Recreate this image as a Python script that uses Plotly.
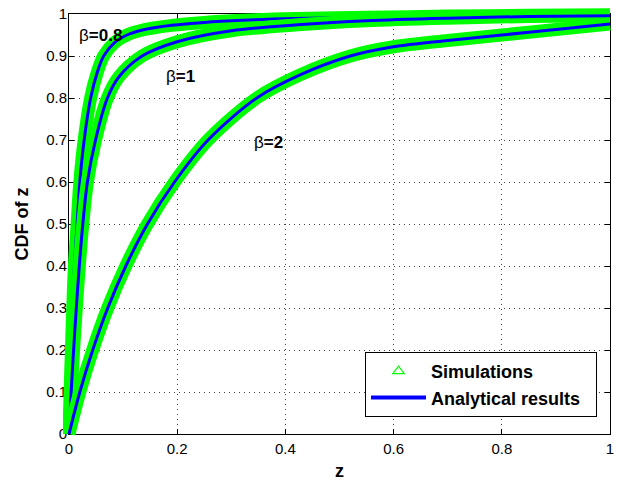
import plotly.graph_objects as go

# ---- data ----
z_b08 = [0, 0.002, 0.0045, 0.007, 0.010, 0.015, 0.020, 0.028, 0.040, 0.052, 0.064, 0.085, 0.107, 0.14, 0.19, 0.25, 0.32, 0.42, 0.55, 0.70, 0.85, 1.0]
F_b08 = [0, 0.10, 0.20, 0.30, 0.40, 0.50, 0.60, 0.70, 0.80, 0.86, 0.90, 0.933, 0.950, 0.963, 0.973, 0.980, 0.985, 0.989, 0.992, 0.995, 0.997, 0.998]

z_b1 = [0, 0.004, 0.0085, 0.0135, 0.019, 0.0255, 0.034, 0.049, 0.071, 0.092, 0.135, 0.20, 0.30, 0.43, 0.55, 0.70, 0.85, 1.0]
F_b1 = [0, 0.10, 0.20, 0.30, 0.40, 0.50, 0.60, 0.70, 0.80, 0.85, 0.90, 0.934, 0.960, 0.975, 0.984, 0.990, 0.994, 0.996]

z_b2 = [0, 0.020, 0.0438, 0.0716, 0.105, 0.145, 0.195, 0.257, 0.347, 0.427, 0.52, 0.60, 0.70, 0.80, 0.90, 1.0]
F_b2 = [0, 0.10, 0.20, 0.30, 0.40, 0.50, 0.60, 0.70, 0.80, 0.855, 0.90, 0.922, 0.937, 0.950, 0.963, 0.976]

curves = [("β=0.8", z_b08, F_b08), ("β=1", z_b1, F_b1), ("β=2", z_b2, F_b2)]

x_ticks = [0, 0.2, 0.4, 0.6, 0.8, 1]
x_ticklabels = ["0", "0.2", "0.4", "0.6", "0.8", "1"]
y_ticks = [0, 0.1, 0.2, 0.3, 0.4, 0.5, 0.6, 0.7, 0.8, 0.9, 1]
y_ticklabels = ["0", "0.1", "0.2", "0.3", "0.4", "0.5", "0.6", "0.7", "0.8", "0.9", "1"]

labels = [("β<b>=0.8</b>", 0.059, 0.948), ("β<b>=1</b>", 0.207, 0.852), ("β<b>=2</b>", 0.368, 0.693)]
legend_names = ["Simulations\u00a0\u00a0", "Analytical results\u00a0\u00a0"]

GREEN = "#00ff00"
BLUE = "#0000ff"
FONT = "Liberation Sans, Arial, Helvetica, sans-serif"

# geometry (px): figure 633x481, frame 541x420 at (69,14), 6px overflow zone for the thick simulation bands
W, H = 633, 481
PW, PH = 541, 420
PAD = 6
ML, MT = 69 - PAD, 14 - PAD
paper_w, paper_h = PW + 2 * PAD, PH + 2 * PAD

fig = go.Figure()
for name, zs, Fs in curves:
    fig.add_trace(go.Scatter(x=zs, y=Fs, mode="lines", xaxis="x2", yaxis="y2",
                             line=dict(color=GREEN, width=13, shape="spline", smoothing=0.9),
                             showlegend=False, hoverinfo="skip"))
    fig.add_trace(go.Scatter(x=zs, y=Fs, mode="lines", xaxis="x2", yaxis="y2",
                             line=dict(color=BLUE, width=3, shape="spline", smoothing=0.9),
                             showlegend=False))

# legend entries
fig.add_trace(go.Scatter(x=[None], y=[None], mode="markers", name=legend_names[0], xaxis="x2", yaxis="y2",
                         marker=dict(symbol="triangle-up-open", color=GREEN, size=10, line=dict(width=1.2, color=GREEN))))
fig.add_trace(go.Scatter(x=[None], y=[None], mode="lines", name=legend_names[1], xaxis="x2", yaxis="y2",
                         line=dict(color=BLUE, width=4)))
# anchor trace for the frame axes (no data drawn)
fig.add_trace(go.Scatter(x=[None], y=[None], mode="lines", showlegend=False, hoverinfo="skip"))

for txt, lx, ly in labels:
    fig.add_annotation(x=lx, y=ly, xref="x", yref="y", text=txt, showarrow=False,
                       font=dict(family=FONT, size=17, color="black"))

axis_common = dict(range=[0, 1], showline=True, linecolor="black", linewidth=1, mirror="ticks",
                   ticks="inside", ticklen=5, tickcolor="black", showgrid=True,
                   gridcolor="#444444", gridwidth=1, griddash="1px,4px", zeroline=False,
                   ticklabeloverflow="allow",
                   tickfont=dict(family=FONT, size=15, color="black"))

fig.update_layout(
    xaxis=dict(**axis_common, domain=[PAD / paper_w, 1 - PAD / paper_w],
               tickvals=x_ticks, ticktext=x_ticklabels, ticklabelstandoff=1,
               title=dict(text="<b>z</b>", font=dict(family=FONT, size=18, color="black"), standoff=10)),
    yaxis=dict(**axis_common, domain=[PAD / paper_h, 1 - PAD / paper_h],
               tickvals=y_ticks, ticktext=y_ticklabels, ticklabelstandoff=-2,
               title=dict(text="<b>CDF of z</b>", font=dict(family=FONT, size=18, color="black"), standoff=12)),
    xaxis2=dict(domain=[0, 1], range=[-PAD / PW, 1 + PAD / PW], visible=False, anchor="y2",
                showgrid=False, zeroline=False),
    yaxis2=dict(domain=[0, 1], range=[-PAD / PH, 1 + PAD / PH], visible=False, anchor="x2",
                showgrid=False, zeroline=False),
    width=W, height=H,
    margin=dict(l=ML, r=W - ML - paper_w, t=MT, b=H - MT - paper_h, autoexpand=False),
    plot_bgcolor="rgba(0,0,0,0)", paper_bgcolor="white",
    legend=dict(x=(PAD + 528) / paper_w, y=(PAD + 17) / paper_h, xanchor="right", yanchor="bottom",
                bgcolor="white", bordercolor="black", borderwidth=1,
                font=dict(family=FONT, size=18, color="black", weight="bold"),
                itemwidth=55, tracegroupgap=0),
    font=dict(family=FONT),
    hovermode=False,
)

fig.write_html("out.html", config={"displayModeBar": False},
               post_script="document.body.style.margin='0';")
